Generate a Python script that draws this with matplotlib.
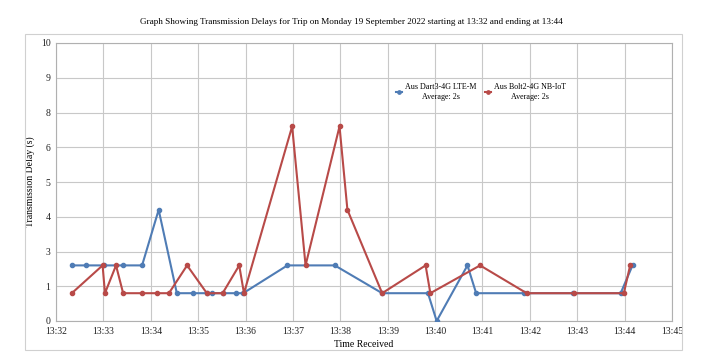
import matplotlib
matplotlib.use("Agg")
import matplotlib.pyplot as plt
from matplotlib.patches import Rectangle

# ---- data ----
dart_times = ["13:32:20", "13:32:38", "13:33:01", "13:33:25", "13:33:49", "13:34:10",
              "13:34:33", "13:34:54", "13:35:11", "13:35:17", "13:35:31", "13:35:48",
              "13:35:57", "13:36:53", "13:37:53", "13:38:53", "13:39:51", "13:40:02",
              "13:40:41", "13:40:52", "13:41:53", "13:42:55", "13:43:55", "13:44:10"]
dart_delays = [2, 2, 2, 2, 2, 4, 1, 1, 1, 1, 1, 1, 1, 2, 2, 1, 1, 0, 2, 1, 1, 1, 1, 2]

bolt_times = ["13:32:20", "13:32:59", "13:33:02", "13:33:16", "13:33:25", "13:33:49",
              "13:34:08", "13:34:23", "13:34:46", "13:35:11", "13:35:31", "13:35:52",
              "13:35:58", "13:36:59", "13:37:16", "13:37:59", "13:38:09", "13:38:53",
              "13:39:48", "13:39:54", "13:40:57", "13:41:56", "13:42:56", "13:43:59",
              "13:44:07"]
bolt_delays = [1, 2, 1, 2, 1, 1, 1, 1, 2, 1, 1, 2, 1, 7, 2, 7, 4, 1, 2, 1, 2, 1, 1, 1, 2]

series_names = ["Aus Dart3-4G LTE-M\nAverage: 2s", "Aus Bolt2-4G NB-IoT\nAverage: 2s"]
x_tick_labels = ["13:32", "13:33", "13:34", "13:35", "13:36", "13:37", "13:38",
                 "13:39", "13:40", "13:41", "13:42", "13:43", "13:44", "13:45"]
y_tick_values = [0, 1.25, 2.5, 3.75, 5, 6.25, 7.5, 8.75, 10]
y_tick_labels = ["0", "1", "3", "4", "5", "6", "8", "9", "10"]

title = "Graph Showing Transmission Delays for Trip on Monday 19 September 2022 starting at 13:32 and ending at 13:44"


def to_min(t):
    h, m, s = (int(v) for v in t.split(":"))
    return (h * 60 + m + s / 60.0) - (13 * 60 + 32)


plt.rcParams["font.family"] = ["Liberation Serif", "DejaVu Serif"]

W, H = 703, 357
fig = plt.figure(figsize=(W / 100, H / 100), dpi=100)
fig.patch.set_facecolor("white")

# outer chart border
fig.patches.append(Rectangle((25 / W, 1 - 350 / H), (682 - 25) / W, (350 - 34) / H,
                             transform=fig.transFigure, fill=False,
                             edgecolor="#d0d0d0", linewidth=0.8))

ax = fig.add_axes([56 / W, 1 - 321 / H, (672 - 56) / W, (321 - 43) / H])

blue = "#4F7CB5"
red = "#B84A48"
ax.plot([to_min(t) for t in dart_times], dart_delays, color=blue, lw=1.5,
        marker="o", ms=3.0, label=series_names[0], zorder=3)
ax.plot([to_min(t) for t in bolt_times], bolt_delays, color=red, lw=1.5,
        marker="o", ms=3.0, label=series_names[1], zorder=3)

ax.set_xlim(0, 13)
ax.set_ylim(0, 10)
ax.set_xticks(range(len(x_tick_labels)))
ax.set_xticklabels(x_tick_labels, fontsize=7)
ax.set_yticks(y_tick_values)
ax.set_yticklabels(y_tick_labels, fontsize=7)
ax.tick_params(length=0, pad=4, colors="#222222")
ax.grid(True, color="#c8c8c8", linewidth=0.8)
ax.set_axisbelow(True)
for s in ax.spines.values():
    s.set_color("#b0b0b0")
    s.set_linewidth(0.8)

ax.set_xlabel("Time Received", fontsize=7, labelpad=3)
ax.set_ylabel("Transmission Delay (s)", fontsize=7, labelpad=4)

fig.text(0.5, 1 - 22 / H, title, ha="center", va="center", fontsize=6.6)

leg = ax.legend(loc="center", bbox_to_anchor=(481 / W, 1 - 92 / H),
                bbox_transform=fig.transFigure, ncol=2, frameon=False,
                fontsize=5.8, handlelength=0.8, handletextpad=0.4,
                columnspacing=1.0, markerscale=0.8)
for txt in leg.get_texts():
    txt.set_multialignment("center")

fig.savefig("out.png", dpi=100)
